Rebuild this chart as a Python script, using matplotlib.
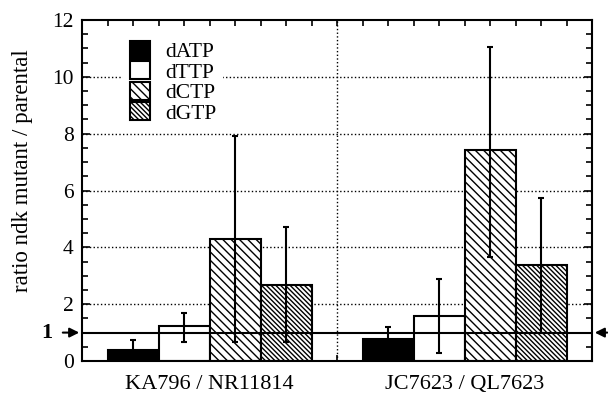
import numpy as np
import matplotlib.pyplot as plt
from matplotlib.ticker import MultipleLocator

plt.rcParams['font.family'] = ['Liberation Serif', 'DejaVu Serif']
plt.rcParams['hatch.linewidth'] = 1.0

groups = ['KA796 / NR11814', 'JC7623 / QL7623']
dntps = ['dATP', 'dTTP', 'dCTP', 'dGTP']
# ratio per group, one list per dNTP
ratio = {
    'dATP': [0.39, 0.76],
    'dTTP': [1.23, 1.60],
    'dCTP': [4.30, 7.41],
    'dGTP': [2.68, 3.39],
}
err_lo = {
    'dATP': [0.04, 0.30],
    'dTTP': [0.67, 0.28],
    'dCTP': [0.67, 3.66],
    'dGTP': [0.67, 0.99],
}
err_hi = {
    'dATP': [0.74, 1.20],
    'dTTP': [1.69, 2.90],
    'dCTP': [7.92, 11.06],
    'dGTP': [4.70, 5.74],
}

bs = chr(92)  # backslash, hatch direction
faces = {'dATP': 'black', 'dTTP': 'white', 'dCTP': 'white', 'dGTP': 'white'}
hatches = {'dATP': None, 'dTTP': None, 'dCTP': bs * 4, 'dGTP': bs * 7}

fig = plt.figure(figsize=(6.08, 3.99), dpi=100)
ax = fig.add_axes([0.1349, 0.0952, 0.9737 - 0.1349, 0.9499 - 0.0952])

group_start = np.array([1, 11])
for i, d in enumerate(dntps):
    xs = group_start + 2 * i + 1
    vals = np.array(ratio[d])
    yerr = [vals - np.array(err_lo[d]), np.array(err_hi[d]) - vals]
    ax.bar(xs, vals, width=2, color=faces[d], edgecolor='black', linewidth=1.5,
           hatch=hatches[d], label=d, zorder=2)
    ax.errorbar(xs, vals, yerr=yerr, fmt='none', ecolor='black', elinewidth=1.5,
                capsize=2.5, capthick=1.5, zorder=3)

for y in [2, 4, 6, 8, 10]:
    ax.axhline(y, color='black', linestyle=':', linewidth=1, zorder=1)
ax.axvline(10, color='black', linestyle=':', linewidth=1, zorder=1)
ax.axhline(1, color='black', linewidth=1.5, zorder=4)

ax.set_xlim(0, 20)
ax.set_ylim(0, 12)
ax.yaxis.set_major_locator(MultipleLocator(2))
ax.yaxis.set_minor_locator(MultipleLocator(0.5))
ax.xaxis.set_major_locator(MultipleLocator(1))
ax.tick_params(axis='both', which='both', direction='in', top=True, right=True,
               width=1.2, labelsize=15.5, pad=6)
ax.tick_params(axis='y', which='major', length=6)
ax.tick_params(axis='y', which='minor', length=4)
ax.tick_params(axis='x', which='major', length=4, labelbottom=False)
for s in ax.spines.values():
    s.set_linewidth(1.5)

ax.set_ylabel('ratio ndk mutant / parental', fontsize=16.5)
ax.yaxis.set_label_coords(-0.097, 0.557)
for x, g in zip(group_start + 4, groups):
    ax.text(x, -0.5, g, ha='center', va='top', fontsize=16)

# marker for ratio = 1 outside the axes
ax.annotate('', xy=(0, 1), xycoords=('axes fraction', 'data'),
            xytext=(-22, 0), textcoords='offset pixels',
            arrowprops=dict(arrowstyle='-|>', color='black', lw=1.5, mutation_scale=14),
            annotation_clip=False)
ax.annotate('', xy=(1, 1), xycoords=('axes fraction', 'data'),
            xytext=(18, 0), textcoords='offset pixels',
            arrowprops=dict(arrowstyle='-|>', color='black', lw=1.5, mutation_scale=14),
            annotation_clip=False)
ax.text(-0.07, 1, '1', transform=ax.get_yaxis_transform(), ha='center', va='center',
        fontsize=16, fontweight='bold')

leg = ax.legend(loc='upper left', bbox_to_anchor=(0.06, 0.99), fontsize=15.5,
                handlelength=0.93, handleheight=0.93, labelspacing=-0.05,
                handletextpad=0.7, borderpad=0.3, framealpha=1, edgecolor='none',
                fancybox=False)
leg.set_zorder(5)

fig.savefig('out.png', dpi=100)
